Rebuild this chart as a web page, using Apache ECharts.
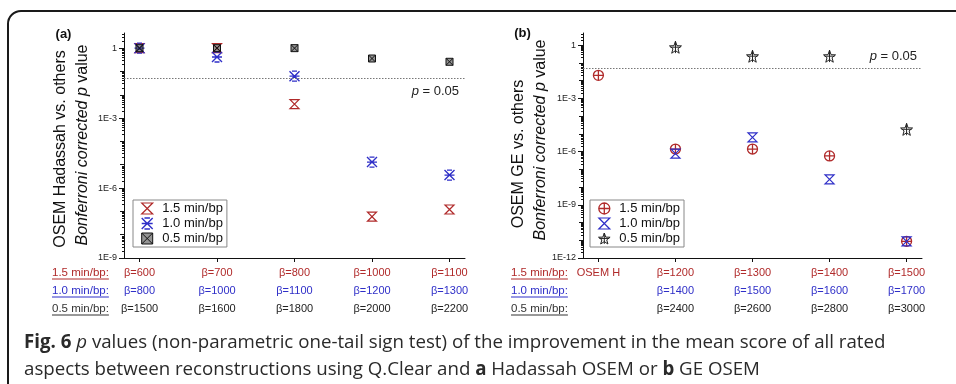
<!DOCTYPE html>
<html><head><meta charset="utf-8">
<script src="https://cdn.jsdelivr.net/npm/echarts@6/dist/echarts.min.js"></script>
<style>html,body{margin:0;padding:0;background:#fff}#c{width:956px;height:384px}</style>
</head><body><div id="c"></div>
<script>
// ---------- data ----------
const catIdx = [1, 2, 3, 4, 5];
const aRow15 = ['β=600', 'β=700', 'β=800', 'β=1000', 'β=1100'];
const aRow10 = ['β=800', 'β=1000', 'β=1100', 'β=1200', 'β=1300'];
const aRow05 = ['β=1500', 'β=1600', 'β=1800', 'β=2000', 'β=2200'];
const bRow15 = ['OSEM H', 'β=1200', 'β=1300', 'β=1400', 'β=1500'];
const bRow10 = ['', 'β=1400', 'β=1500', 'β=1600', 'β=1700'];
const bRow05 = ['', 'β=2400', 'β=2600', 'β=2800', 'β=3000'];
const rowHeads = ['1.5 min/bp:', '1.0 min/bp:', '0.5 min/bp:'];
const seriesNames = ['1.5 min/bp', '1.0 min/bp', '0.5 min/bp'];
// p values (Bonferroni corrected)
const aP15 = [1, 1, 0.004, 5.9e-8, 1.2e-7];
const aP10 = [1, 0.42, 0.063, 1.3e-5, 3.6e-6];
const aP05 = [1, 1, 1, 0.36, 0.26];
const bP15 = [0.02, 1.4e-6, 1.4e-6, 5.7e-7, 8.7e-12];
const bP10 = [null, 7.7e-7, 6.4e-6, 2.7e-8, 8.7e-12];
const bP05 = [null, 0.77, 0.24, 0.24, 1.8e-5];
const aYTickExp = [-9, -6, -3, 0];
const aYTickLabels = ['1E-9', '1E-6', '1E-3', '1'];
const bYTickExp = [-12, -9, -6, -3, 0];
const bYTickLabels = ['1E-12', '1E-9', '1E-6', '1E-3', '1'];
const alpha = 0.05;

// ---------- styling ----------
const RED = '#b02a2a', BLUE = '#2f2fc8', BLK = '#222';
const FONT = 'Arial, "Liberation Sans", sans-serif';
const CAP_FONT = '"Open Sans", sans-serif';
const SYM_HOUR = 'path://M0,0H10L0,10H10Z';
const SYM_AST = 'path://M0,0L10,10M10,0L0,10M0,5H10M2.5,0H7.5M2.5,10H7.5';
const SYM_BOX = 'path://M0,0H10V10H0ZM0,0L10,10M10,0L0,10';
const SYM_CIRC = 'path://M0,5A5,5,0,1,1,10,5A5,5,0,1,1,0,5ZM5,0V10M0,5H10';
const SYM_STAR = 'path://M5,0L6.2,3.4L9.8,3.5L7,5.7L8,9.1L5,7.1L2,9.1L3,5.7L0.2,3.5L3.8,3.4ZM5,0V9M1,4.5H9';

const xMin = 0.8, xMax = 5.2;
const aYMin = -9, aYMax = 0.65, bYMin = -12, bYMax = 0.69;

function decades(lo, hi) { const o = []; for (let d = Math.ceil(lo); d <= hi; d++) o.push(d); return o; }
function minors(lo, hi) {
  const o = [];
  for (let d = Math.floor(lo); d <= hi; d++) for (let k = 2; k <= 9; k++) { const v = d + Math.log10(k); if (v >= lo && v <= hi) o.push(v); }
  return o;
}
function yAxes(gi, lo, hi, exps, labels) {
  const base = { type: 'value', gridIndex: gi, min: lo, max: hi, position: 'left', splitLine: { show: false } };
  return [
    Object.assign({}, base, {
      axisLine: { show: true, onZero: false, lineStyle: { color: '#111', width: 1 } },
      axisTick: { show: true, length: 5, customValues: exps, lineStyle: { color: '#111' } },
      axisLabel: { show: true, customValues: exps, margin: 7, fontSize: 9, color: '#222', fontFamily: FONT,
        formatter: v => labels[exps.indexOf(Math.round(v))] || '' }
    }),
    Object.assign({}, base, {
      axisLine: { show: false, onZero: false }, axisLabel: { show: false },
      axisTick: { show: true, length: 4, customValues: decades(lo, hi), lineStyle: { color: '#111' } }
    }),
    Object.assign({}, base, {
      axisLine: { show: false, onZero: false }, axisLabel: { show: false },
      axisTick: { show: true, length: 2, customValues: minors(lo, hi), lineStyle: { color: '#111' } }
    })
  ];
}
function xAxis(gi, r1, r2, r3) {
  return {
    type: 'value', gridIndex: gi, min: xMin, max: xMax, position: 'bottom', splitLine: { show: false },
    axisLine: { show: true, onZero: false, lineStyle: { color: '#111' } },
    axisTick: { show: true, length: 4, customValues: catIdx, lineStyle: { color: '#111' } },
    axisLabel: {
      show: true, customValues: catIdx, margin: 6, fontFamily: FONT, fontSize: 11, lineHeight: 18,
      formatter: v => { const i = catIdx.indexOf(Math.round(v)); return '{r|' + (r1[i] || ' ') + '}\n{b|' + (r2[i] || ' ') + '}\n{k|' + (r3[i] || ' ') + '}'; },
      rich: {
        r: { color: RED, fontSize: 11, lineHeight: 18, fontFamily: FONT },
        b: { color: BLUE, fontSize: 11, lineHeight: 18, fontFamily: FONT },
        k: { color: BLK, fontSize: 11, lineHeight: 18, fontFamily: FONT }
      }
    }
  };
}
function toPts(arr) { return arr.map((p, i) => p == null ? null : [catIdx[i], Math.log10(p)]).filter(Boolean); }
function sc(name, arr, xi, yi, symbol, size, color, fill, bw) {
  return { type: 'scatter', name, xAxisIndex: xi, yAxisIndex: yi, symbol, symbolSize: size,
    itemStyle: { color: fill, borderColor: color, borderWidth: bw, opacity: 1 },
    emphasis: { disabled: true }, data: toPts(arr) };
}
function pLine(pos, dist) {
  return {
    silent: true, symbol: ['none', 'none'],
    lineStyle: { color: '#777', type: [1.5, 1.5], width: 1 },
    label: { show: true, position: pos, distance: dist, formatter: '{i|p} = 0.05', color: '#222', fontSize: 13, fontFamily: FONT,
      rich: { i: { fontStyle: 'italic', fontSize: 13, color: '#222', fontFamily: FONT } } },
    data: [{ yAxis: Math.log10(alpha) }]
  };
}

const sA15 = sc(seriesNames[0], aP15, 0, 0, SYM_HOUR, 9, RED, 'rgba(0,0,0,0)', 1.2);
const sA10 = sc(seriesNames[1], aP10, 0, 0, SYM_AST, 10, BLUE, 'rgba(0,0,0,0)', 1.4);
const sA05 = sc(seriesNames[2], aP05, 0, 0, SYM_BOX, 7, '#111', 'rgba(60,60,60,0.55)', 1);
sA05.markLine = pLine('insideEndBottom', 6);
const sB15 = sc('b:' + seriesNames[0], bP15, 1, 3, SYM_CIRC, 10, RED, 'rgba(0,0,0,0)', 1.3);
const sB10 = sc('b:' + seriesNames[1], bP10, 1, 3, SYM_HOUR, 9, BLUE, 'rgba(0,0,0,0)', 1.2);
const sB05 = sc('b:' + seriesNames[2], bP05, 1, 3, SYM_STAR, 12, '#222', 'rgba(0,0,0,0)', 1);
sB05.markLine = pLine('insideEndTop', 5);

function legend(left, series) {
  return {
    left, top: 200, orient: 'vertical',
    data: series.map(s => ({ name: s.name, icon: s.symbol, itemStyle: Object.assign({}, s.itemStyle) })),
    borderColor: '#888', borderWidth: 1, padding: [2, 4, 2, 8], itemGap: 2,
    itemWidth: 20, itemHeight: 11, selectedMode: false, inactiveColor: '#222',
    formatter: n => n.replace(/^b:/, ''),
    textStyle: { fontSize: 13, lineHeight: 13, color: '#111', fontFamily: FONT }
  };
}

// measured underline widths
const ctx = document.createElement('canvas').getContext('2d');
const HEAD_FONT = '11.5px ' + FONT;
ctx.font = HEAD_FONT;
const headColors = [RED, BLUE, '#333'];
const rowY = [273, 291, 309];
const capRich = {
  b: { fontWeight: 'bold', fontSize: 18.7, fontFamily: CAP_FONT, fill: '#2a2a2a' },
  i: { fontStyle: 'italic', fontSize: 18.7, fontFamily: CAP_FONT, fill: '#2a2a2a' }
};
const graphics = [
  { type: 'rect', shape: { x: 8, y: 11, width: 1200, height: 600, r: 13 }, style: { fill: 'none', stroke: '#1a1a1a', lineWidth: 2 }, silent: true },
  { type: 'text', x: 63.5, y: 34, style: { text: '(a)', font: 'bold 13px ' + FONT, fill: '#111', align: 'center', verticalAlign: 'middle' } },
  { type: 'text', x: 522.5, y: 33.5, style: { text: '(b)', font: 'bold 13px ' + FONT, fill: '#111', align: 'center', verticalAlign: 'middle' } },
  { type: 'text', x: 61, y: 149, rotation: Math.PI / 2, style: { text: 'OSEM Hadassah vs. others', font: '16px ' + FONT, fill: '#111', align: 'center', verticalAlign: 'middle' } },
  { type: 'text', x: 83, y: 145, rotation: Math.PI / 2, style: { text: '{i|Bonferroni corrected p} value', font: '16px ' + FONT, fill: '#111', align: 'center', verticalAlign: 'middle',
    rich: { i: { fontStyle: 'italic', fontSize: 16, fontFamily: FONT, fill: '#111' } } } },
  { type: 'text', x: 519, y: 154, rotation: Math.PI / 2, style: { text: 'OSEM GE vs. others', font: '16px ' + FONT, fill: '#111', align: 'center', verticalAlign: 'middle' } },
  { type: 'text', x: 541, y: 140, rotation: Math.PI / 2, style: { text: '{i|Bonferroni corrected p} value', font: '16px ' + FONT, fill: '#111', align: 'center', verticalAlign: 'middle',
    rich: { i: { fontStyle: 'italic', fontSize: 16, fontFamily: FONT, fill: '#111' } } } },
  { type: 'text', x: 24, y: 343, style: { text: '{b|Fig. 6} {i|p} values (non-parametric one-tail sign test) of the improvement in the mean score of all rated',
    font: '18.7px ' + CAP_FONT, fill: '#2a2a2a', verticalAlign: 'middle', rich: capRich } },
  { type: 'text', x: 24, y: 370, style: { text: 'aspects between reconstructions using Q.Clear and {b|a} Hadassah OSEM or {b|b} GE OSEM',
    font: '18.7px ' + CAP_FONT, fill: '#2a2a2a', verticalAlign: 'middle', rich: capRich } }
];
[52, 511].forEach(x0 => {
  rowHeads.forEach((t, i) => {
    const w = ctx.measureText(t).width;
    graphics.push({ type: 'text', x: x0, y: rowY[i], style: { text: t, font: HEAD_FONT, fill: headColors[i], verticalAlign: 'middle' } });
    graphics.push({ type: 'line', shape: { x1: x0, y1: rowY[i] + 6, x2: x0 + w, y2: rowY[i] + 6 }, style: { stroke: headColors[i], lineWidth: 1 } });
  });
});

const chart = echarts.init(document.getElementById('c'), null, { renderer: 'canvas' });
chart.setOption({
  animation: false,
  backgroundColor: '#fff',
  grid: [
    { left: 124, top: 33, width: 341, height: 225, outerBoundsMode: 'none' },
    { left: 583, top: 33, width: 339, height: 225, outerBoundsMode: 'none' }
  ],
  xAxis: [xAxis(0, aRow15, aRow10, aRow05), xAxis(1, bRow15, bRow10, bRow05)],
  yAxis: yAxes(0, aYMin, aYMax, aYTickExp, aYTickLabels).concat(yAxes(1, bYMin, bYMax, bYTickExp, bYTickLabels)),
  legend: [legend(133, [sA15, sA10, sA05]), legend(590, [sB15, sB10, sB05])],
  series: [sA15, sA10, sA05, sB15, sB10, sB05],
  graphic: graphics
});
</script></body></html>
